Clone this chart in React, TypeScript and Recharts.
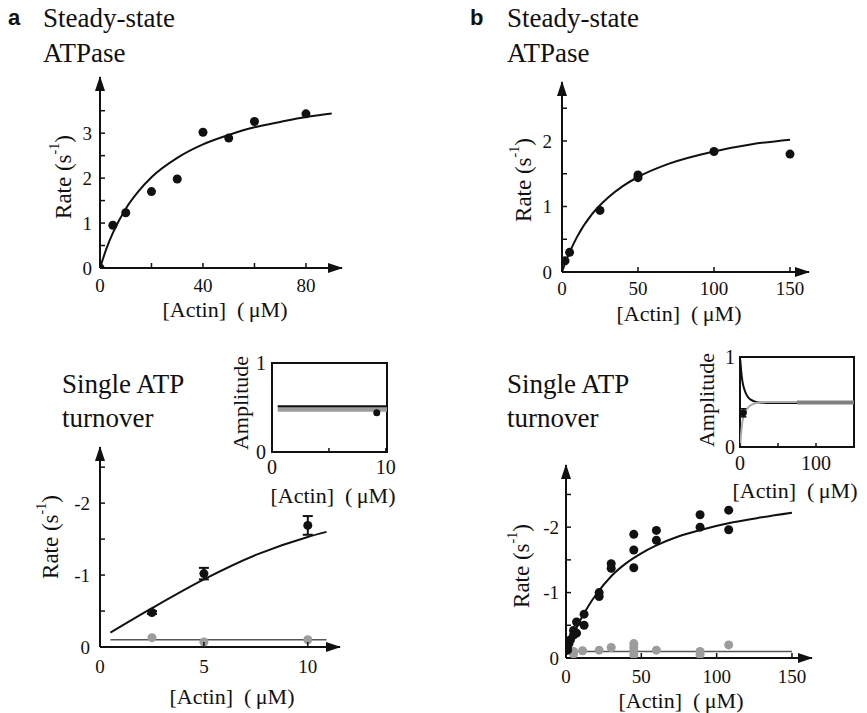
import React from "react";
import {
  ComposedChart,
  Line,
  Scatter,
  XAxis,
  YAxis,
  ReferenceDot,
  ReferenceArea,
  ErrorBar,
} from "recharts";

const W = 867;
const H = 713;
const SERIF = '"Liberation Serif", "DejaVu Serif", "Times New Roman", serif';
const SANS = '"Liberation Sans", Arial, sans-serif';
const INK = "#111";
const GREY = "#9c9c9c";
const DARK = "#555";

// a: steady-state ATPase
const aSsActin = [0, 5, 10, 20, 30, 40, 50, 60, 80];
const aSsRate = [0, 0.95, 1.23, 1.7, 1.98, 3.02, 2.89, 3.26, 3.43];
const aSsFitActin = [0, 2.5, 5, 10, 15, 20, 30, 40, 50, 60, 70, 80, 90];
const aSsFitRate = [0, 0.43, 0.78, 1.32, 1.71, 2.02, 2.45, 2.75, 2.96, 3.13, 3.25, 3.36, 3.44];

// b: steady-state ATPase
const bSsActin = [2, 5, 25, 50, 50, 100, 150];
const bSsRate = [0.17, 0.3, 0.94, 1.48, 1.44, 1.84, 1.8];
const bSsFitActin = [0, 2, 5, 10, 20, 30, 40, 50, 70, 100, 125, 150];
const bSsFitRate = [0, 0.13, 0.3, 0.54, 0.89, 1.13, 1.31, 1.45, 1.65, 1.84, 1.95, 2.02];

// a: single ATP turnover
const aStActin = [2.5, 5, 10];
const aStFast = [0.48, 1.02, 1.69];
const aStFastErr = [0.02, 0.08, 0.13];
const aStSlow = [0.13, 0.07, 0.1];
const aStFitActin = [0.5, 2.5, 5, 7.5, 10, 10.9];
const aStFitRate = [0.2, 0.54, 0.94, 1.28, 1.53, 1.6];
const aStSlowFitActin = [0.5, 10.9];
const aStSlowFitRate = [0.1, 0.1];

// a: amplitude inset
const aAmpActin = [9.2];
const aAmp = [0.44];
const aAmpLineActin = [0.5, 10.1];
const aAmpFast = [0.515, 0.515];
const aAmpSlow = [0.48, 0.48];

// b: single ATP turnover
const bStFastActin = [1, 1, 2, 3, 5, 5, 7, 7, 12, 12, 22, 22, 30, 30, 45, 45, 45, 60, 60, 89, 89, 108, 108];
const bStFast = [0.12, 0.17, 0.22, 0.28, 0.35, 0.42, 0.38, 0.55, 0.5, 0.67, 0.94, 1.0, 1.37, 1.44, 1.38, 1.65, 1.89, 1.8, 1.95, 2.0, 2.19, 1.96, 2.26];
const bStSlowActin = [1, 5, 5, 11, 22, 30, 45, 45, 45, 45, 60, 89, 89, 108];
const bStSlow = [0.12, 0.06, 0.1, 0.11, 0.12, 0.16, 0.05, 0.12, 0.17, 0.22, 0.12, 0.05, 0.1, 0.2];
const bStFitActin = [0, 2, 5, 10, 15, 20, 30, 40, 50, 60, 75, 90, 110, 130, 150];
const bStFitRate = [0.05, 0.18, 0.36, 0.6, 0.8, 0.97, 1.25, 1.45, 1.6, 1.72, 1.86, 1.96, 2.07, 2.15, 2.22];
const bStSlowFitActin = [0, 150];
const bStSlowFitRate = [0.1, 0.1];

// b: amplitude inset
const bAmpActin = [4.5];
const bAmp = [0.38];
const bAmpErr = [0.045];
const bAmpCurveActin = [0.3, 1.5, 3, 5, 8, 12, 18, 25, 35, 50, 150];
const bAmpFast = [0.97, 0.85, 0.74, 0.66, 0.59, 0.54, 0.51, 0.495, 0.49, 0.49, 0.49];
const bAmpSlow = [0.02, 0.15, 0.27, 0.35, 0.41, 0.45, 0.48, 0.495, 0.5, 0.5, 0.5];
const bAmpBandActin = [75, 150];
const bAmpBand = [0.495, 0.495];

const pts = (xs: number[], ys: number[], errs?: number[]) =>
  xs.map((x, i) => ({ x, y: ys[i], err: errs ? errs[i] : 0 }));

type Box = { left: number; top: number; w: number; h: number };

const margins = (b: Box) => ({
  left: b.left - 1,
  top: b.top,
  right: W - b.left - b.w,
  bottom: H - b.top - b.h - 1,
});

const serif = (fs: number): React.CSSProperties => ({ fontFamily: SERIF, fontSize: fs });

const xTick =
  (major: number[], fs: number, dy: number, inward: number) => (p: any) => {
    const v = p.payload.value;
    return (
      <g>
        {inward > 0 && (
          <line x1={p.x} x2={p.x} y1={p.y} y2={p.y - inward} stroke={INK} strokeWidth={1.5} />
        )}
        {major.includes(v) && (
          <text x={p.x} y={p.y + dy} textAnchor="middle" style={serif(fs)} fill={INK}>
            {v}
          </text>
        )}
      </g>
    );
  };

const yTick =
  (major: number[], fs: number, gap: number, inward: number, neg = false) =>
  (p: any) => {
    const v = p.payload.value;
    const label = neg && v !== 0 ? `-${v}` : `${v}`;
    return (
      <g>
        {inward > 0 && (
          <line x1={p.x} x2={p.x + inward} y1={p.y} y2={p.y} stroke={INK} strokeWidth={1.5} />
        )}
        {major.includes(v) && (
          <text x={p.x - gap} y={p.y} dy="0.35em" textAnchor="end" style={serif(fs)} fill={INK}>
            {label}
          </text>
        )}
      </g>
    );
  };

const arrowRight = (p: any) => (
  <path d={`M${p.cx + 1},${p.cy} L${p.cx - 14},${p.cy - 5} L${p.cx - 14},${p.cy + 5} Z`} fill={INK} />
);
const arrowUp = (p: any) => (
  <path d={`M${p.cx},${p.cy - 1} L${p.cx - 5},${p.cy + 14} L${p.cx + 5},${p.cy + 14} Z`} fill={INK} />
);

const dot = (r: number, fill: string) => (p: any) =>
  <circle cx={p.cx} cy={p.cy} r={r} fill={fill} />;

const layer: React.CSSProperties = { position: "absolute", left: 0, top: 0 };

function MainPanel(props: {
  box: Box;
  xMax: number;
  yMax: number;
  xTicks: number[];
  xMajor: number[];
  yTicks: number[];
  yMajor: number[];
  xDy: number;
  yGap: number;
  neg?: boolean;
  children: React.ReactNode;
}) {
  const { box, xMax, yMax } = props;
  return (
    <div style={layer}>
      <ComposedChart width={W} height={H} margin={margins(box)}>
        <XAxis
          type="number"
          dataKey="x"
          domain={[0, xMax]}
          ticks={props.xTicks}
          interval={0}
          allowDataOverflow
          height={1}
          tickLine={false}
          tickSize={0}
          tickMargin={0}
          axisLine={{ stroke: INK, strokeWidth: 2 }}
          tick={xTick(props.xMajor, 19, props.xDy, 5)}
        />
        <YAxis
          type="number"
          dataKey="y"
          domain={[0, yMax]}
          ticks={props.yTicks}
          interval={0}
          allowDataOverflow
          width={1}
          tickLine={false}
          tickSize={0}
          tickMargin={0}
          axisLine={{ stroke: INK, strokeWidth: 2 }}
          tick={yTick(props.yMajor, 19, props.yGap, 5, props.neg)}
        />
        {props.children}
        <ReferenceDot x={xMax} y={0} r={0} ifOverflow="visible" shape={arrowRight} />
        <ReferenceDot x={0} y={yMax} r={0} ifOverflow="visible" shape={arrowUp} />
      </ComposedChart>
    </div>
  );
}

function Inset(props: {
  box: Box;
  xMax: number;
  xTicks: number[];
  xMajor: number[];
  xDy: number;
  yGap: number;
  children: React.ReactNode;
}) {
  const { box, xMax } = props;
  return (
    <div style={layer}>
      <ComposedChart width={W} height={H} margin={margins(box)}>
        <XAxis
          type="number"
          dataKey="x"
          domain={[0, xMax]}
          ticks={props.xTicks}
          interval={0}
          allowDataOverflow
          height={1}
          tickLine={false}
          tickSize={0}
          tickMargin={0}
          axisLine={false}
          tick={xTick(props.xMajor, 20, props.xDy, 4)}
        />
        <YAxis
          type="number"
          dataKey="y"
          domain={[0, 1]}
          ticks={[0, 1]}
          interval={0}
          allowDataOverflow
          width={1}
          tickLine={false}
          tickSize={0}
          tickMargin={0}
          axisLine={false}
          tick={yTick([0, 1], 20, props.yGap, 0)}
        />
        <ReferenceArea
          x1={0}
          x2={xMax}
          y1={0}
          y2={1}
          ifOverflow="visible"
          fill="none"
          fillOpacity={0}
          stroke={INK}
          strokeWidth={2}
        />
        {props.children}
      </ComposedChart>
    </div>
  );
}

const fit = (xs: number[], ys: number[], color: string, width: number, key: string) => (
  <Line
    key={key}
    data={pts(xs, ys)}
    dataKey="y"
    type="monotone"
    stroke={color}
    strokeWidth={width}
    dot={false}
    activeDot={false}
    isAnimationActive={false}
  />
);

function Texts() {
  const t = (x: number, y: number, s: React.ReactNode, fs = 22, rot = false, anchor = "middle") => (
    <text
      x={x}
      y={y}
      fill={INK}
      textAnchor={anchor as any}
      dominantBaseline={rot || anchor === "middle" ? "central" : undefined}
      transform={rot ? `rotate(-90 ${x} ${y})` : undefined}
      style={{ ...serif(fs), whiteSpace: "pre" }}
    >
      {s}
    </text>
  );
  const rate = (
    <>
      Rate (s
      <tspan dy={-9} fontSize={14}>-1</tspan>
      <tspan dy={9}>)</tspan>
    </>
  );
  const actin = "[Actin]  (\u2009\u03bcM)";
  return (
    <svg width={W} height={H} style={{ ...layer, pointerEvents: "none" }}>
      <text x={8} y={25} style={{ fontFamily: SANS, fontWeight: "bold", fontSize: 22 }} fill={INK}>a</text>
      <text x={470} y={25} style={{ fontFamily: SANS, fontWeight: "bold", fontSize: 22 }} fill={INK}>b</text>
      {t(43, 27, "Steady-state", 27, false, "start")}
      {t(43, 62, "ATPase", 27, false, "start")}
      {t(507, 27, "Steady-state", 27, false, "start")}
      {t(507, 62, "ATPase", 27, false, "start")}
      {t(62, 393, "Single ATP", 27, false, "start")}
      {t(62, 427, "turnover", 27, false, "start")}
      {t(507, 393, "Single ATP", 27, false, "start")}
      {t(507, 427, "turnover", 27, false, "start")}
      {t(225, 309, actin)}
      {t(679, 313, actin)}
      {t(232, 696, actin)}
      {t(681, 700, actin)}
      {t(333, 495, actin)}
      {t(795, 490, actin)}
      {t(63, 177, rate, 23, true)}
      {t(523, 180, rate, 23, true)}
      {t(50, 537, rate, 23, true)}
      {t(521, 566, rate, 23, true)}
      {t(240, 403, "Amplitude", 22, true)}
      {t(706, 400, "Amplitude", 22, true)}
    </svg>
  );
}

export default function App() {
  return (
    <div style={{ ...layer, width: W, height: H, background: "#fff" }}>
      {/* a, steady state */}
      <MainPanel
        box={{ left: 100, top: 77, w: 242, h: 191 }}
        xMax={94}
        yMax={4.25}
        xTicks={[0, 20, 40, 60, 80]}
        xMajor={[0, 40, 80]}
        yTicks={[0, 0.5, 1, 1.5, 2, 2.5, 3, 3.5]}
        yMajor={[0, 1, 2, 3]}
        xDy={24}
        yGap={8}
      >
        {fit(aSsFitActin, aSsFitRate, INK, 2, "f")}
        <Scatter data={pts(aSsActin, aSsRate)} dataKey="y" shape={dot(4.5, INK)} isAnimationActive={false} />
      </MainPanel>

      {/* b, steady state */}
      <MainPanel
        box={{ left: 562, top: 82, w: 247, h: 190 }}
        xMax={162.5}
        yMax={2.9}
        xTicks={[0, 50, 100, 150]}
        xMajor={[0, 50, 100, 150]}
        yTicks={[0, 0.5, 1, 1.5, 2, 2.5]}
        yMajor={[0, 1, 2]}
        xDy={23}
        yGap={10}
      >
        {fit(bSsFitActin, bSsFitRate, INK, 2, "f")}
        <Scatter data={pts(bSsActin, bSsRate)} dataKey="y" shape={dot(4.5, INK)} isAnimationActive={false} />
      </MainPanel>

      {/* a, single turnover */}
      <MainPanel
        box={{ left: 100, top: 447, w: 240, h: 200 }}
        xMax={11.55}
        yMax={2.78}
        xTicks={[0, 5, 10]}
        xMajor={[0, 5, 10]}
        yTicks={[0, 0.5, 1, 1.5, 2, 2.5]}
        yMajor={[0, 1, 2]}
        xDy={26}
        yGap={10}
        neg
      >
        {fit(aStSlowFitActin, aStSlowFitRate, DARK, 1.5, "s")}
        {fit(aStFitActin, aStFitRate, INK, 2, "f")}
        <Scatter data={pts(aStActin, aStSlow)} dataKey="y" shape={dot(4.5, GREY)} isAnimationActive={false} />
        <Scatter data={pts(aStActin, aStFast, aStFastErr)} dataKey="y" shape={dot(4.5, INK)} isAnimationActive={false}>
          <ErrorBar dataKey="err" direction="y" width={5} stroke={INK} strokeWidth={2} />
        </Scatter>
      </MainPanel>

      {/* b, single turnover */}
      <MainPanel
        box={{ left: 566, top: 465, w: 246, h: 193 }}
        xMax={163.3}
        yMax={2.95}
        xTicks={[0, 50, 100, 150]}
        xMajor={[0, 50, 100, 150]}
        yTicks={[0, 0.5, 1, 1.5, 2, 2.5]}
        yMajor={[0, 1, 2]}
        xDy={25}
        yGap={7}
        neg
      >
        {fit(bStSlowFitActin, bStSlowFitRate, DARK, 1.5, "s")}
        <Scatter data={pts(bStSlowActin, bStSlow)} dataKey="y" shape={dot(4.5, GREY)} isAnimationActive={false} />
        {fit(bStFitActin, bStFitRate, INK, 2, "f")}
        <Scatter data={pts(bStFastActin, bStFast)} dataKey="y" shape={dot(4.5, INK)} isAnimationActive={false} />
      </MainPanel>

      {/* a, amplitude inset */}
      <Inset
        box={{ left: 272, top: 363, w: 115, h: 89 }}
        xMax={10.1}
        xTicks={[0, 5, 10]}
        xMajor={[0, 10]}
        xDy={22}
        yGap={6}
      >
        {fit(aAmpLineActin, aAmpSlow, GREY, 5, "s")}
        {fit(aAmpLineActin, aAmpFast, INK, 2, "f")}
        <Scatter data={pts(aAmpActin, aAmp)} dataKey="y" shape={dot(3.5, INK)} isAnimationActive={false} />
      </Inset>

      {/* b, amplitude inset */}
      <Inset
        box={{ left: 740, top: 357, w: 114, h: 90 }}
        xMax={150}
        xTicks={[0, 50, 100]}
        xMajor={[0, 100]}
        xDy={23}
        yGap={5}
      >
        {fit(bAmpCurveActin, bAmpFast, INK, 2, "f")}
        {fit(bAmpCurveActin, bAmpSlow, "#aaa", 2, "s")}
        {fit(bAmpBandActin, bAmpBand, "#808080", 4, "b")}
        <Scatter data={pts(bAmpActin, bAmp, bAmpErr)} dataKey="y" shape={dot(3.5, INK)} isAnimationActive={false}>
          <ErrorBar dataKey="err" direction="y" width={3} stroke={INK} strokeWidth={1.5} />
        </Scatter>
      </Inset>

      <Texts />
    </div>
  );
}
